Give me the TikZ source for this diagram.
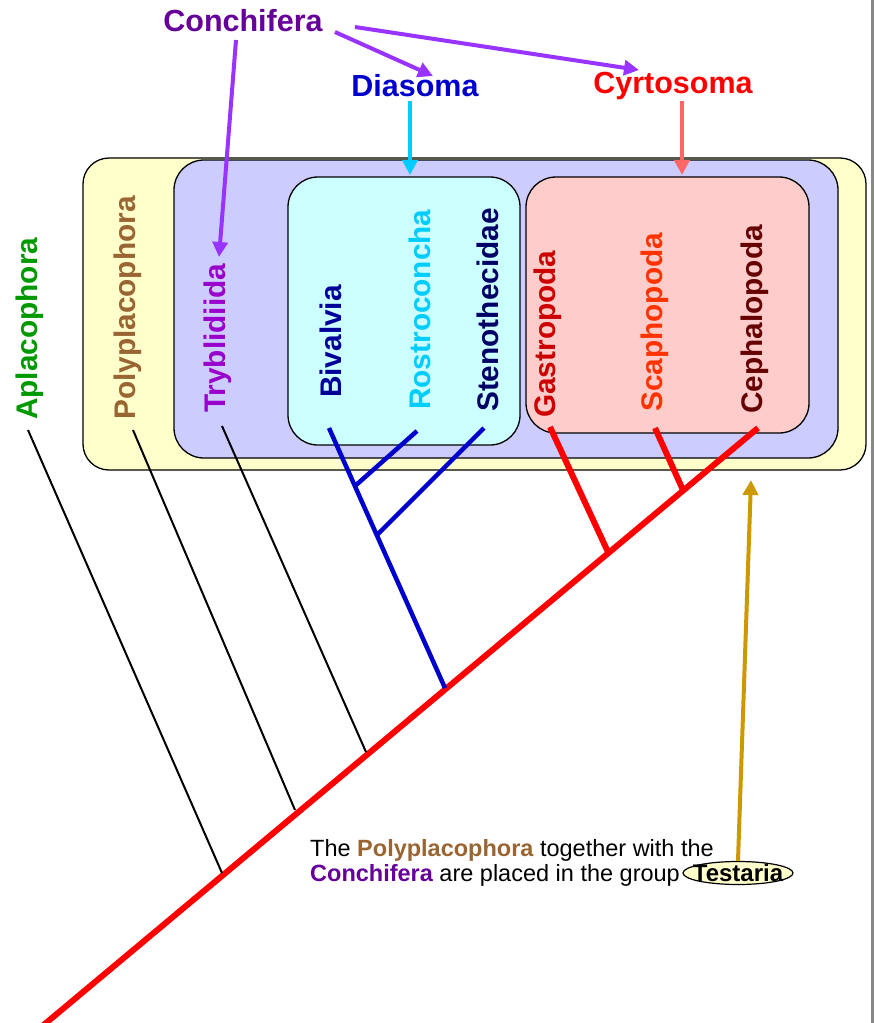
\documentclass[tikz,border=0pt]{standalone}
\usepackage{fontspec}
\setmainfont{Liberation Sans}
\usetikzlibrary{arrows.meta,shapes.geometric}

\definecolor{aplgreen}{HTML}{009900}
\definecolor{polybrown}{HTML}{996633}
\definecolor{trypurple}{HTML}{9900CC}
\definecolor{bivblue}{HTML}{000099}
\definecolor{roscyan}{HTML}{00CCFF}
\definecolor{stenavy}{HTML}{000066}
\definecolor{gasred}{HTML}{CC0000}
\definecolor{scaorange}{HTML}{FF3300}
\definecolor{cephdark}{HTML}{660000}
\definecolor{conchpurple}{HTML}{660099}
\definecolor{diablue}{HTML}{0000CC}
\definecolor{cyrred}{HTML}{FF0000}
\definecolor{arrowpurple}{HTML}{9933FF}
\definecolor{arrowsalmon}{HTML}{FF6666}
\definecolor{arrowgold}{HTML}{CC9900}
\definecolor{treeblue}{HTML}{0000CC}
\definecolor{treered}{HTML}{FF0000}
\definecolor{testfill}{HTML}{FFFFCC}
\definecolor{conchfill}{HTML}{CCCCFF}
\definecolor{diafill}{HTML}{CCFFFF}
\definecolor{cyrfill}{HTML}{FFCCCC}
\definecolor{edgegrey}{HTML}{888888}

\begin{document}
\begin{tikzpicture}[x=1pt,y=-1pt,
  taxon/.style={rotate=90, anchor=west, inner sep=0pt,
                font=\fontsize{29.8}{32}\selectfont\bfseries},
  grouplabel/.style={inner sep=0pt, font=\fontsize{30.5}{33}\selectfont\bfseries},
  cladebox/.style={draw=black, line width=1.3pt},
  pointer/.style={line width=4pt, -{Triangle[length=15pt,width=15pt]}},
  stem/.style={line width=2pt, black},
  bluebranch/.style={line width=4.5pt, treeblue},
  redbranch/.style={line width=6pt, treered},
  note/.style={inner sep=0pt, anchor=base west, font=\fontsize{23.5}{26}\selectfont},
]
\path[use as bounding box] (0,0) rectangle (874,1023);
\fill[white] (0,0) rectangle (874,1023);
\draw[edgegrey, line width=3pt] (872.5,0) -- (872.5,1023);

% nested clade boxes
\draw[cladebox, fill=testfill, rounded corners=26pt] (83,158) rectangle (866,470);
\draw[cladebox, fill=conchfill, rounded corners=30pt] (174,160) rectangle (838,458);
\draw[cladebox, fill=diafill, rounded corners=30pt] (288,177) rectangle (520,445);
\draw[cladebox, fill=cyrfill, rounded corners=30pt] (526,177) rectangle (809,433);

% taxon names
\node[taxon, text=aplgreen]  (apl)  at (30,420)  {Aplacophora};
\node[taxon, text=polybrown] (poly) at (128,420) {Polyplacophora};
\node[taxon, text=trypurple] (try)  at (218,413) {Tryblidiida};
\node[taxon, text=bivblue]   (biv)  at (331,398) {Bivalvia};
\node[taxon, text=roscyan]   (ros)  at (420,410) {Rostroconcha};
\node[taxon, text=stenavy]   (ste)  at (488,412) {Stenothecidae};
\node[taxon, text=gasred]    (gas)  at (548,418) {Gastropoda};
\node[taxon, text=scaorange] (sca)  at (655,412) {Scaphopoda};
\node[taxon, text=cephdark]  (cep)  at (755,414) {Cephalopoda};

% group names
\node[grouplabel, text=conchpurple] (conch) at (243,21) {Conchifera};
\node[grouplabel, text=diablue]     (dia)   at (415,86) {Diasoma};
\node[grouplabel, text=cyrred]      (cyr)   at (673,86) {Cyrtosoma};

% leaf tips
\coordinate (aplT)  at (28,430);
\coordinate (polyT) at (133,430);
\coordinate (tryT)  at (222,426);
\coordinate (bivT)  at (329,428);
\coordinate (rosT)  at (417,431);
\coordinate (steT)  at (484,428);
\coordinate (gasT)  at (550,427);
\coordinate (scaT)  at (655,428);
\coordinate (cepT)  at (758,428);

% internal nodes
\coordinate (root) at (40,1028);
\coordinate (nApl)  at (222,873);
\coordinate (nPoly) at (295,810);
\coordinate (nTry)  at (366,752);
\coordinate (nDia)  at (445,688);
\coordinate (nGas)  at (608,552);
\coordinate (nSca)  at (683,490);
\coordinate (nSte)  at (377,535);
\coordinate (nRos)  at (355,486);

% tree
\begin{scope}
\clip (0,0) rectangle (874,1023);
\draw[redbranch] (root) -- (cepT);
\end{scope}
\draw[redbranch] (nGas) -- (gasT);
\draw[redbranch] (nSca) -- (scaT);
\draw[bluebranch] (nDia) -- (bivT);
\draw[bluebranch] (nSte) -- (steT);
\draw[bluebranch] (nRos) -- (rosT);
\draw[stem] (nApl) -- (aplT);
\draw[stem] (nPoly) -- (polyT);
\draw[stem] (nTry) -- (tryT);

% group pointers
\coordinate (conchA) at (236,40);
\coordinate (conchB) at (335,32);
\coordinate (conchC) at (355,27);
\coordinate (tryTop) at (219,257);
\coordinate (diaTop) at (433,76);
\coordinate (cyrTop) at (639,70);
\draw[pointer, arrowpurple] (conchA) -- (tryTop);
\draw[pointer, arrowpurple] (conchB) -- (diaTop);
\draw[pointer, arrowpurple] (conchC) -- (cyrTop);
\coordinate (diaBox) at (410,175);
\coordinate (cyrBox) at (682,175);
\draw[pointer, roscyan] (410,101) -- (diaBox);
\draw[pointer, arrowsalmon] (682,101) -- (cyrBox);

% note at the bottom
\node[note] (line1) at (310,856)
  {The \textbf{\textcolor{polybrown}{Polyplacophora}} together with the};
\node[note] (line2) at (310,881)
  {\textbf{\textcolor{conchpurple}{Conchifera}} are placed in the group};
\node[ellipse, draw=black, line width=1.2pt, fill=testfill,
      inner xsep=-8pt, inner ysep=-3pt,
      minimum width=110pt, minimum height=23pt,
      font=\fontsize{24}{26}\selectfont\bfseries] (testaria) at (738,873) {Testaria};
\coordinate (testBox) at (751,480);
\draw[pointer, arrowgold] (testaria.north) -- (testBox);

\end{tikzpicture}
\end{document}
